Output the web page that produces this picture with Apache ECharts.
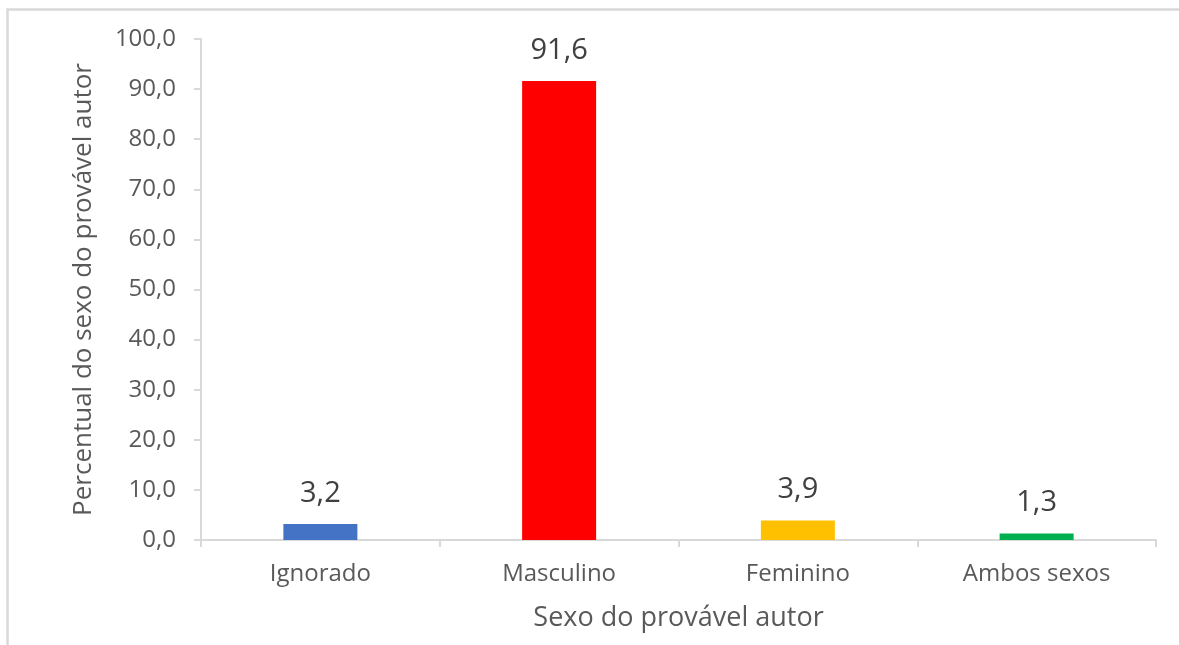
<!DOCTYPE html>
<html>
<head>
<meta charset="utf-8">
<script src="https://cdn.jsdelivr.net/npm/echarts@6/dist/echarts.min.js"></script>
<style>
html,body{margin:0;padding:0;background:#fff;}
#chart{width:1179px;height:645px;}
</style>
</head>
<body>
<div id="chart"></div>
<script>
// Sexo do provável autor — percentual por categoria
const categories = ['Ignorado', 'Masculino', 'Feminino', 'Ambos sexos'];
const percentuais = [3.2, 91.6, 3.9, 1.3];
const barColors = ['#4472C4', '#FF0000', '#FFC000', '#00B050'];

const fontFamily = '"Open Sans", sans-serif';
const axisColor = '#D9D9D9';
const fmt = v => Number(v).toFixed(1).replace('.', ',');

const chart = echarts.init(document.getElementById('chart'), null, { renderer: 'canvas' });
chart.setOption({
  backgroundColor: '#fff',
  animation: false,
  graphic: [{
    type: 'rect',
    shape: { x: 7.5, y: 9.5, width: 1200, height: 700 },
    style: { fill: 'none', stroke: '#D9D9D9', lineWidth: 2.5 },
    silent: true
  }],
  grid: { left: 201, right: 23, top: 39, bottom: 105, containLabel: false },
  xAxis: {
    type: 'category',
    data: categories,
    name: 'Sexo do provável autor',
    nameLocation: 'middle',
    nameGap: 65,
    nameTextStyle: { fontFamily, fontSize: 27, color: '#595959' },
    axisLine: { show: true, lineStyle: { color: axisColor, width: 2 } },
    axisTick: { show: true, alignWithLabel: false, length: 7, lineStyle: { color: axisColor, width: 2 } },
    axisLabel: { fontFamily, fontSize: 24, color: '#595959', margin: 22 }
  },
  yAxis: {
    type: 'value',
    min: 0, max: 100, interval: 10,
    name: 'Percentual do sexo do provável autor',
    nameLocation: 'middle',
    nameGap: 104,
    nameTextStyle: { fontFamily, fontSize: 26, color: '#595959' },
    splitLine: { show: false },
    axisLine: { show: true, lineStyle: { color: axisColor, width: 2 } },
    axisTick: { show: true, length: 7, lineStyle: { color: axisColor, width: 2 } },
    axisLabel: { fontFamily, fontSize: 24, color: '#595959', margin: 25, formatter: fmt }
  },
  series: [{
    type: 'bar',
    barWidth: 74,
    data: percentuais.map((v, i) => ({ value: v, itemStyle: { color: barColors[i] } })),
    label: {
      show: true,
      position: 'top',
      distance: 16,
      fontFamily,
      fontSize: 29,
      color: '#404040',
      formatter: p => fmt(p.value)
    }
  }]
});
</script>
</body>
</html>
